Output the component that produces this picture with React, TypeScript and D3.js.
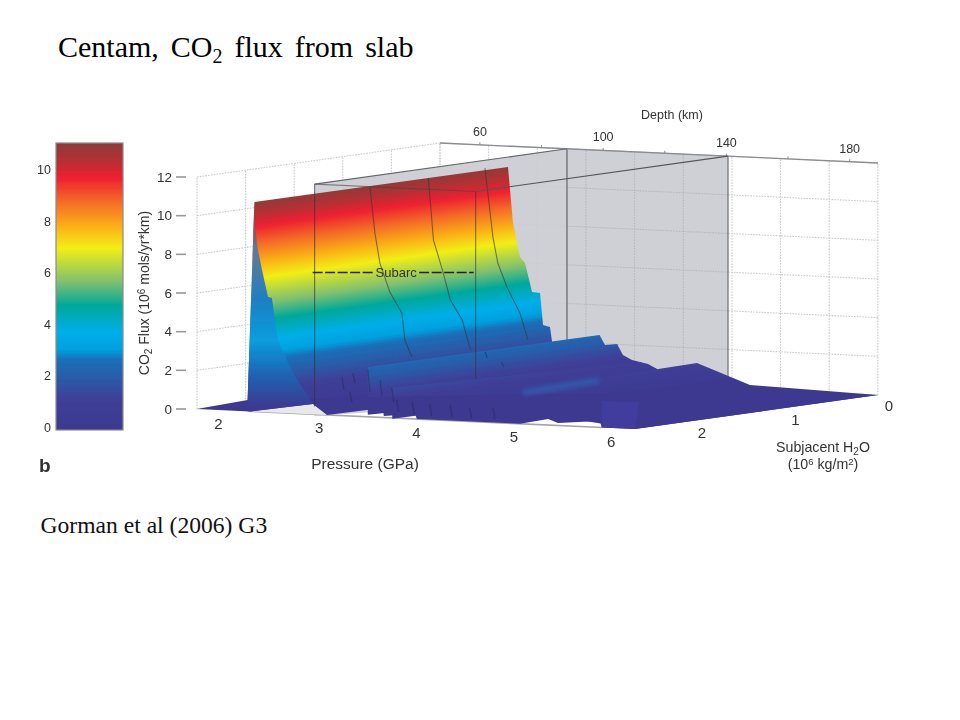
import React from 'react';
import * as d3 from 'd3';

// ---------- axes ----------
const fluxTicks = [0, 2, 4, 6, 8, 10, 12];
const barTicks = [0, 2, 4, 6, 8, 10];
const pressureTicks = [2, 3, 4, 5, 6];
const waterTicks = [0, 1, 2];
const depthTicks = [60, 80, 100, 120, 140, 160, 180];
const depthLabels = [60, 100, 140, 180];
const P0 = 1.78, P1 = 6.28, WMAX = 2.6, FMAX = 11.05;
const sideGridW = [0, 0.52, 1.04, 1.56, 2.08, 2.6];
const backGridP = [1.78, 2.28, 2.78, 3.28, 3.78, 4.28, 4.78, 5.28, 5.78, 6.28];

// ---------- colour map (flux -> colour) ----------
const colorF = [0, 1.2, 1.95, 2.7, 3.1, 3.75, 4.8, 5.7, 7, 7.8, 8.8, 9.7, 10.4, 11.05];
const colorC = ['#3d3890', '#3f3f98', '#2b5aa8', '#1a6fb8', '#00a0de', '#00aeea', '#00a89a', '#7fc070', '#f2ee15', '#fbb315', '#f46a28', '#ee2030', '#b33035', '#8f3a38'];

// ---------- surface edges ----------
const ridgeP = [2.37, 2.479];
const ridgeW = [2.6, 0];
const ridgeF = [10.84, 10.92];
const backP = [2.53, 2.602, 2.654, 2.726, 2.808, 2.839, 2.91, 2.931];
const backF = [8.03, 6.29, 6.0, 4.51, 4.48, 2.83, 2.74, 2.02];
const frontP = [2.3, 2.37, 2.376, 2.407, 2.448, 2.51, 2.55, 2.61, 2.767, 2.97];
const frontF = [0.59, 10.84, 9.54, 8.37, 7.35, 5.96, 5.92, 3.76, 2.09, 0.53];
const edgeP = [1.78, 2.325, 2.97, 3.116, 3.69, 3.7, 4.02, 4.04, 4.62, 4.89, 5.1, 5.39, 5.49, 5.92, 5.94, 6.28];
const edgeF = [0, 0, 0.53, 0, 0.49, 0.08, 0.25, 0, 0, 0, 0, 0.31, 0.13, 0.33, 0, 0];
const rampP = [1.78, 2.3];
const rampF = [0, 0.59];
// secondary ridges
const ridgeAP = 3.42, ridgeAW = [2.48, 0], ridgeAF = [2.47, 2.45];
const stairP = [3.476, 3.6, 3.66, 3.753, 3.835, 3.918, 4.01];
const stairF = [1.94, 2.02, 1.47, 1.23, 1.14, 1.06, 0.82];
const ridgeBP = 3.835, ridgeBW = [2.65, 0], ridgeBF = [1.6, 1.14];
const ridgeCP = 4.421, ridgeCW = [1.86, 0], ridgeCF = [1.09, 1.23];
const tailP = [4.966, 6.28];
const tailF = [0.21, 0];
const ridgeDP = [5.94, 5.94, 6.28, 6.28], ridgeDW = [2.6, 2.6, 2.55, 2.6], ridgeDF = [0, 1.4, 1.35, 0];

// ---------- profile lines on the surface ----------
const line1W = 1.4;
const line1P = [2.405, 2.456, 2.507, 2.609, 2.733, 2.764, 2.835];
const line1F = [10.82, 8.44, 6.9, 5.43, 4.37, 2.98, 2.12];
const line2W = 0.72;
const line2P = [2.352, 2.404, 2.496, 2.578, 2.7, 2.784];
const line2F = [10.81, 7.62, 6.09, 4.55, 3.55, 2.02];
const line3W = 0.1;
const line3P = [2.338, 2.42, 2.47, 2.564, 2.697, 2.78];
const line3F = [10.9, 7.35, 6.02, 4.8, 3.49, 2.11];
const spikeW = 2.4;
const spikeP = [3.078, 3.19, 3.16, 3.345, 3.47, 3.59, 3.64, 3.8, 3.98, 4.19, 4.39, 4.63, 4.55, 4.72];
const spikeTop = [1.82, 2.05, 1.06, 2.25, 1.75, 1.37, 0.76, 0.69, 0.63, 0.63, 0.52, 0.57, 3.45, 2.97];
const spikeBot = [1.15, 1.54, 0.54, 1.11, 0.93, 0.64, 0.14, 0.07, 0.01, 0.01, 0, 0, 3.14, 2.72];

// ---------- grey subarc box ----------
const boxP = [3.085, 4.74];
const boxW = [0, 2.7];
const boxTop = 12;
const subarcP = [3.085, 4.74];
const subarcF = [7.43, 7.8];

// ---------- projection ----------
const xP = d3.scaleLinear().domain([P0, P1]).range([0, 437.85]);
const yP = d3.scaleLinear().domain([P0, P1]).range([0, 19.98]);
const xW = d3.scaleLinear().domain([WMAX, 0]).range([197, 440]);
const yW = d3.scaleLinear().domain([WMAX, 0]).range([409, 375]);
const yF = d3.scaleLinear().domain([0, 12]).range([0, -232]);
const depthP = d3.scaleLinear().domain([60, 180]).range([2.19, 5.99]);
const barY = d3.scaleLinear().domain([0, 10]).range([427.5, 169.5]);

type Pt = [number, number];
const pr = (p: number, w: number, f: number): Pt => [xW(w) + xP(p), yW(w) + yP(p) + yF(f)];
const zip = (P: number[], w: number, F: number[]): Pt[] => P.map((p, i) => pr(p, w, F[i]));
const poly = (pts: Pt[]) => d3.line()(pts)! + 'Z';
const path = (pts: Pt[]) => d3.line()(pts)!;

// Polygons
const mainPts: Pt[] = [
  pr(frontP[0], WMAX, frontF[0]),
  ...ridgeP.map((p, i) => pr(p, ridgeW[i], ridgeF[i])),
  ...zip(backP, 0, backF),
  pr(backP[backP.length - 1], 0, 0),
  pr(frontP[frontP.length - 1], WMAX, frontF[frontF.length - 1]),
];
const capPts: Pt[] = [...zip(frontP, WMAX, frontF), pr(edgeP[1], WMAX, edgeF[1])];
const sheetA: Pt[] = [
  ...ridgeAW.map((w, i) => pr(ridgeAP, w, ridgeAF[i])),
  ...zip(stairP, 0, stairF),
  pr(stairP[stairP.length - 1], 0, 0),
  pr(ridgeAP, ridgeAW[0], 0),
];
const sheetB: Pt[] = [
  ...ridgeBW.map((w, i) => pr(ridgeBP, w, ridgeBF[i])),
  pr(stairP[stairP.length - 1], 0, stairF[stairF.length - 1]),
  pr(stairP[stairP.length - 1], 0, 0),
  pr(ridgeBP, ridgeBW[0], 0),
];
const sheetC: Pt[] = [
  ...ridgeCW.map((w, i) => pr(ridgeCP, w, ridgeCF[i])),
  ...zip(tailP, 0, tailF),
  pr(P1, WMAX, 0),
  pr(ridgeCP, ridgeCW[0], 0),
];
const sheetFloor: Pt[] = [
  ...zip(edgeP, WMAX, edgeF),
  pr(P1, 0, 0),
  pr(4.6, 1.0, 0.4),
  pr(3.0, 2.0, 0.5),
  ...zip(rampP, WMAX, rampF).reverse(),
];
const sheetD: Pt[] = ridgeDP.map((p, i) => pr(p, ridgeDW[i], ridgeDF[i]));

const boxOutline: Pt[] = [
  pr(boxP[0], boxW[1], boxTop),
  pr(boxP[0], boxW[0], boxTop),
  pr(boxP[1], boxW[0], boxTop),
  pr(boxP[1], boxW[0], 0),
  pr(boxP[0], boxW[1], 0),
];

const gradFor = (id: string, p: number) => {
  const a = pr(p, 0, 0);
  const v = Math.abs(yF(FMAX));
  const dx = xW(0) - xW(WMAX), dy = yW(0) - yW(WMAX);
  const len = Math.hypot(dx, dy);
  const nx = dy / len, ny = -dx / len;
  const lenN = v * Math.abs(ny);
  return (
    <linearGradient key={id} id={id} gradientUnits="userSpaceOnUse" x1={a[0]} y1={a[1]} x2={a[0] + nx * lenN} y2={a[1] + ny * lenN}>
      {colorF.map((f, i) => <stop key={i} offset={f / FMAX} stopColor={colorC[i]} />)}
    </linearGradient>
  );
};

const sans = '"Liberation Sans", Arial, sans-serif';
const serif = '"Liberation Serif", "Times New Roman", serif';
const ink = '#333';
const gridC = '#c8cad0';

export default function App() {
  return (
    <svg width={960} height={720} style={{ position: 'absolute', left: 0, top: 0, background: '#fff' }}>
      <defs>
        <linearGradient id="bar" x1="0" y1="1" x2="0" y2="0">
          {colorF.map((f, i) => <stop key={i} offset={f / FMAX} stopColor={colorC[i]} />)}
        </linearGradient>
        {gradFor('gMain', 2.5)}
        {gradFor('gA', ridgeAP)}
        {gradFor('gB', ridgeBP)}
        {gradFor('gC', ridgeCP)}
        <linearGradient id="gCap" gradientUnits="userSpaceOnUse" x1="0" y1={202} x2="0" y2={408}>
          <stop offset={0} stopColor="#8f3a38" />
          <stop offset={0.16} stopColor="#8a5a60" />
          <stop offset={0.22} stopColor="#607a98" />
          <stop offset={0.33} stopColor="#4b7ca6" />
          <stop offset={0.47} stopColor="#1d7fc2" />
          <stop offset={0.67} stopColor="#089ddd" />
          <stop offset={0.84} stopColor="#1f63b3" />
          <stop offset={1} stopColor="#3d3890" />
        </linearGradient>
        <filter id="soft" x="-2%" y="-2%" width="104%" height="104%">
          <feGaussianBlur stdDeviation="0.4" />
        </filter>
        <filter id="softer" x="-10%" y="-50%" width="120%" height="200%">
          <feGaussianBlur stdDeviation="2" />
        </filter>
      </defs>

      {/* title */}
      <text x={58} y={57} fontFamily={serif} fontSize={30} fill="#000" style={{ wordSpacing: 4.5 }}>
        Centam, CO<tspan dy={6} fontSize={20}>2</tspan><tspan dy={-6}> flux from slab</tspan>
      </text>
      <text x={40.5} y={533} fontFamily={serif} fontSize={23.6} fill="#111">Gorman et al (2006) G3</text>

      <g filter="url(#soft)">
        {/* colour bar */}
        <rect x={56} y={143} width={67} height={287} fill="url(#bar)" stroke="#8a8a8a" strokeWidth={1.2} />
        {barTicks.map(t => (
          <text key={t} x={51} y={barY(t) + 4.5} textAnchor="end" fontFamily={sans} fontSize={12.5} fill={ink}>{t}</text>
        ))}
        <text x={39} y={472} fontFamily={sans} fontWeight="bold" fontSize={19} fill="#333">b</text>

        {/* walls grid */}
        {fluxTicks.map(t => (
          <g key={t}>
            <path d={path([pr(P0, WMAX, t), pr(P0, 0, t)])} stroke={gridC} strokeWidth={1.1} strokeDasharray="1.6 1.2" fill="none" />
            <path d={path([pr(P0, 0, t), pr(P1, 0, t)])} stroke={gridC} strokeWidth={1.1} strokeDasharray="1.6 1.2" fill="none" />
            <path d={path([[pr(P0, WMAX, t)[0] - 21, pr(P0, WMAX, t)[1]], [pr(P0, WMAX, t)[0] - 11, pr(P0, WMAX, t)[1]]])} stroke="#999" strokeWidth={1.6} />
            <text x={172} y={pr(P0, WMAX, t)[1] + 4.5} textAnchor="end" fontFamily={sans} fontSize={13.5} fill={ink}>{t}</text>
          </g>
        ))}
        {sideGridW.map(w => (
          <path key={w} d={path([pr(P0, w, 0), pr(P0, w, 12)])} stroke={gridC} strokeWidth={1.1} strokeDasharray="1.6 1.2" fill="none" />
        ))}
        {backGridP.map(p => (
          <path key={p} d={path([pr(p, 0, 0), pr(p, 0, 12)])} stroke={gridC} strokeWidth={1.1} strokeDasharray="1.6 1.2" fill="none" />
        ))}

        {/* grey box */}
        <path d={poly(boxOutline)} fill="#cbcdd3" fillOpacity={0.94} />
        {backGridP.filter(p => p > 3.1 && p < 4.72).map(p => (
          <path key={p} d={path([pr(p, 0, 0), pr(p, 0, 12)])} stroke="#b4b6bc" strokeWidth={1} strokeDasharray="1.6 1.2" fill="none" />
        ))}
        {fluxTicks.map(t => (
          <path key={t} d={path([pr(boxP[0], 0, t), pr(boxP[1], 0, t)])} stroke="#b4b6bc" strokeWidth={1} strokeDasharray="1.6 1.2" fill="none" />
        ))}
        <path d={path([pr(boxP[0], 0, 12), pr(boxP[0], 0, 1)])} stroke="#777a80" strokeWidth={1.5} fill="none" />
        <path d={path([pr(boxP[1], 0, 12), pr(boxP[1], 0, 0.5)])} stroke="#6b6e74" strokeWidth={1.2} fill="none" />

        {/* top edge & depth axis */}
        <path d={path([pr(P0, 0, 12), pr(P1, 0, 12)])} stroke="#8a8c90" strokeWidth={1.3} fill="none" />
        {depthTicks.map(d => {
          const a = pr(depthP(d), 0, 12);
          return <line key={d} x1={a[0]} x2={a[0]} y1={a[1] - 2.5} y2={a[1]} stroke="#8a8c90" strokeWidth={1} />;
        })}
        {depthLabels.map(d => {
          const a = pr(depthP(d), 0, 12);
          return <text key={d} x={a[0]} y={a[1] - 9} textAnchor="middle" fontFamily={sans} fontSize={12.5} fill={ink}>{d}</text>;
        })}
        <text x={672} y={119} textAnchor="middle" fontFamily={sans} fontSize={12.5} fill={ink}>Depth (km)</text>

        {/* floor edge */}
        <path d={path([pr(2.3, WMAX, 0), pr(5.95, WMAX, 0)])} stroke="#a5a5a5" strokeWidth={1.6} fill="none" />
        <path d={poly(zip(edgeP.slice(1, 4), WMAX, edgeF.slice(1, 4)))} fill="#e8e8e8" />

        {/* surface */}
        <path d={poly(mainPts)} fill="url(#gMain)" />
        <path d={poly(sheetA)} fill="url(#gA)" />
        <path d={poly(sheetB)} fill="url(#gB)" />
        <path d={poly(sheetC)} fill="url(#gC)" />
        <path d={poly(sheetFloor)} fill={colorC[0]} />
        <path d={poly(sheetD)} fill="#403c9e" />
        <path d={poly(capPts)} fill="url(#gCap)" />
        <path d={path([pr(ridgeCP, ridgeCW[0], 0.95), pr(ridgeCP, 1.05, 1.05)])} stroke="#2f66b6" strokeWidth={7} strokeOpacity={0.6} fill="none" filter="url(#softer)" />

        {/* profile lines */}
        {[zip(line1P, line1W, line1F), zip(line2P, line2W, line2F), zip(line3P, line3W, line3F)].map((l, i) => (
          <path key={i} d={path(l)} stroke="#2c3a3a" strokeOpacity={0.6} strokeWidth={1.1} fill="none" />
        ))}
        {spikeP.map((p, i) => (
          <path key={i} d={path([pr(p, spikeW, spikeTop[i]), pr(p + 0.02, spikeW, spikeBot[i])])} stroke="#23234f" strokeOpacity={0.45} strokeWidth={1.2} fill="none" />
        ))}

        {/* box lines over surface */}
        <path d={path([pr(boxP[0], boxW[1], boxTop), pr(boxP[0], boxW[1], 0.5)])} stroke="#333" strokeOpacity={0.65} strokeWidth={1.1} fill="none" />
        <path d={path([pr(boxP[1], boxW[1], boxTop), pr(boxP[1], boxW[1], 2.3)])} stroke="#333" strokeOpacity={0.6} strokeWidth={1.1} fill="none" />
        <path d={path([pr(boxP[0], boxW[1], boxTop), pr(boxP[1], boxW[1], boxTop)])} stroke="#444" strokeOpacity={0.6} strokeWidth={1.1} fill="none" />
        <path d={path([pr(boxP[0], boxW[1], boxTop), pr(boxP[0], boxW[0], boxTop)])} stroke="#666" strokeWidth={1.1} fill="none" />
        <path d={path([pr(boxP[1], boxW[1], boxTop), pr(boxP[1], boxW[0], boxTop)])} stroke="#555" strokeWidth={1.1} fill="none" />

        {/* subarc */}
        {(() => {
          const a = pr(subarcP[0], boxW[1], subarcF[0]);
          const b = pr(subarcP[1], boxW[1], subarcF[1]);
          const mid = (a[0] + b[0]) / 2;
          return (
            <g>
              <path d={`M${a[0] - 2},${a[1]}H${mid - 21}M${mid + 24},${a[1]}H${b[0] - 2}`} stroke="#222" strokeWidth={1.5} strokeDasharray="10 2.5" fill="none" />
              <text x={mid + 1} y={a[1] + 4.5} textAnchor="middle" fontFamily={sans} fontSize={13} fill="#333">Subarc</text>
            </g>
          );
        })()}

        {/* axis labels */}
        {pressureTicks.map((p, i) => {
          const a = pr(p, WMAX, 0);
          return <text key={p} x={a[0] + (i === 0 ? 0 : 3.5)} y={a[1] + 19} textAnchor="middle" fontFamily={sans} fontSize={15} fill={ink}>{p}</text>;
        })}
        {waterTicks.map(w => {
          const a = pr(P1, w, 0);
          return <text key={w} x={a[0] + 11} y={a[1] + 16.5} textAnchor="middle" fontFamily={sans} fontSize={15} fill={ink}>{w}</text>;
        })}
        <text x={365} y={469} textAnchor="middle" fontFamily={sans} fontSize={15.5} fill={ink}>Pressure (GPa)</text>
        <text x={823} y={452} textAnchor="middle" fontFamily={sans} fontSize={14.2} fill={ink}>
          Subjacent H<tspan dy={3} fontSize={10}>2</tspan><tspan dy={-3}>O</tspan>
        </text>
        <text x={823} y={469} textAnchor="middle" fontFamily={sans} fontSize={14.2} fill={ink}>
          (10<tspan dy={-4.5} fontSize={9.5}>6</tspan><tspan dy={4.5}> kg/m</tspan><tspan dy={-4.5} fontSize={9.5}>2</tspan><tspan dy={4.5}>)</tspan>
        </text>
        <text transform="translate(149,293) rotate(-90)" textAnchor="middle" fontFamily={sans} fontSize={14} fill={ink}>
          CO<tspan dy={3} fontSize={10}>2</tspan><tspan dy={-3}> Flux (10</tspan><tspan dy={-4.5} fontSize={10}>6</tspan><tspan dy={4.5}> mols/yr*km)</tspan>
        </text>
      </g>
    </svg>
  );
}
